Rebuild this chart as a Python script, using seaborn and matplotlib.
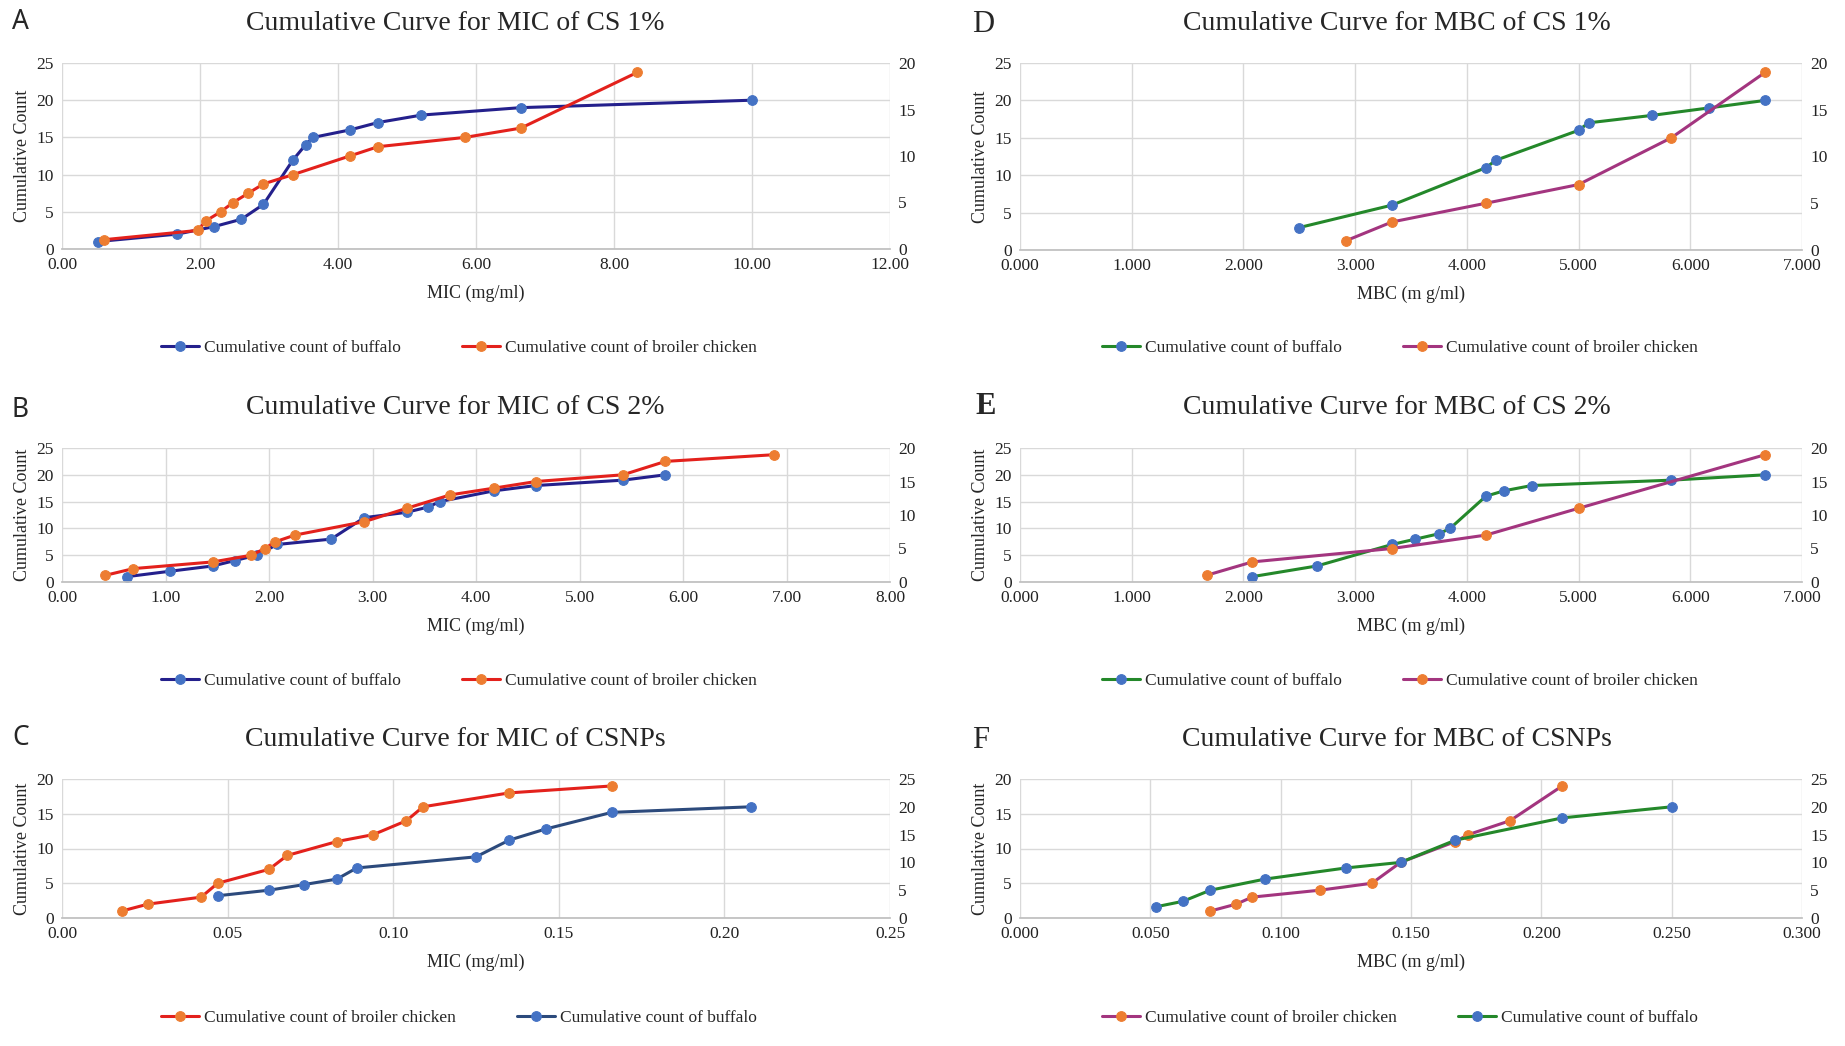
import matplotlib
matplotlib.use("Agg")
import matplotlib.pyplot as plt
import seaborn as sns

sns.set_theme(style="white")
plt.rcParams['font.family'] = ['Liberation Serif', 'DejaVu Serif']

# ---- data ----
# A: MIC of CS 1%
a_buffalo_x = [0.52, 1.67, 2.20, 2.60, 2.92, 3.35, 3.53, 3.64, 4.17, 4.58, 5.21, 6.65, 10.0]
a_buffalo_y = [1, 2, 3, 4, 6, 12, 14, 15, 16, 17, 18, 19, 20]
a_broiler_x = [0.61, 1.97, 2.08, 2.30, 2.48, 2.70, 2.92, 3.35, 4.17, 4.58, 5.84, 6.65, 8.34]
a_broiler_y = [1, 2, 3, 4, 5, 6, 7, 8, 10, 11, 12, 13, 19]

# B: MIC of CS 2%
b_buffalo_x = [0.63, 1.04, 1.46, 1.67, 1.88, 2.08, 2.60, 2.92, 3.33, 3.54, 3.65, 4.17, 4.58, 5.42, 5.83]
b_buffalo_y = [1, 2, 3, 4, 5, 7, 8, 12, 13, 14, 15, 17, 18, 19, 20]
b_broiler_x = [0.42, 0.69, 1.46, 1.83, 1.96, 2.06, 2.25, 2.92, 3.33, 3.75, 4.17, 4.58, 5.42, 5.83, 6.88]
b_broiler_y = [1, 2, 3, 4, 5, 6, 7, 9, 11, 13, 14, 15, 16, 18, 19]

# C: MIC of CSNPs
c_broiler_x = [0.018, 0.026, 0.042, 0.047, 0.0625, 0.068, 0.083, 0.094, 0.104, 0.109, 0.135, 0.166]
c_broiler_y = [1, 2, 3, 5, 7, 9, 11, 12, 14, 16, 18, 19]
c_buffalo_x = [0.047, 0.0625, 0.073, 0.083, 0.089, 0.125, 0.135, 0.146, 0.166, 0.208]
c_buffalo_y = [4, 5, 6, 7, 9, 11, 14, 16, 19, 20]

# D: MBC of CS 1%
d_buffalo_x = [2.50, 3.33, 4.17, 4.26, 5.0, 5.09, 5.66, 6.17, 6.67]
d_buffalo_y = [3, 6, 11, 12, 16, 17, 18, 19, 20]
d_broiler_x = [2.92, 3.33, 4.17, 5.0, 5.83, 6.67]
d_broiler_y = [1, 3, 5, 7, 12, 19]

# E: MBC of CS 2%
e_buffalo_x = [2.08, 2.66, 3.33, 3.54, 3.75, 3.85, 4.17, 4.33, 4.58, 5.83, 6.67]
e_buffalo_y = [1, 3, 7, 8, 9, 10, 16, 17, 18, 19, 20]
e_broiler_x = [1.67, 2.08, 3.33, 4.17, 5.0, 6.67]
e_broiler_y = [1, 3, 5, 7, 11, 19]

# F: MBC of CSNPs
f_broiler_x = [0.073, 0.083, 0.089, 0.115, 0.135, 0.146, 0.167, 0.172, 0.188, 0.208]
f_broiler_y = [1, 2, 3, 4, 5, 8, 11, 12, 14, 19]
f_buffalo_x = [0.052, 0.0625, 0.073, 0.094, 0.125, 0.146, 0.167, 0.208, 0.25]
f_buffalo_y = [2, 3, 5, 7, 9, 10, 14, 18, 20]

lab_buffalo = "Cumulative count of buffalo"
lab_broiler = "Cumulative count of broiler chicken"

BLUE_M = "#4472C4"
ORANGE_M = "#ED7D31"
NAVY = "#24208C"
SLATE = "#2C4A7C"
RED = "#E3211C"
GREEN = "#24882A"
PURPLE = "#A3357F"
GRID = "#D9D9D9"

W, H = 1845, 1046
fig = plt.figure(figsize=(W / 100, H / 100), dpi=100)


def box(l, r, t, b):
    return [l / W, 1 - b / H, (r - l) / W, (b - t) / H]


def series(ax, x, y, line, mark, label):
    sns.lineplot(x=x, y=y, ax=ax, color=line, marker="o", markersize=7,
                 markerfacecolor=mark, markeredgecolor=mark, linewidth=2.2,
                 sort=False, label=label, legend=False)


def panel(rect, letter, letter_font, title, xlabel, xticks, xfmt,
          prim, sec, prim_max, sec_max, order, leg_x, leg_y, title_x, title_y, let_xy):
    ax = fig.add_axes(rect)
    ax2 = ax.twinx()
    for (x, y, line, mark, label) in prim:
        series(ax, x, y, line, mark, label)
    for (x, y, line, mark, label) in sec:
        series(ax2, x, y, line, mark, label)
    ax.set_xlim(xticks[0], xticks[-1])
    ax.set_xticks(xticks)
    ax.set_xticklabels([xfmt.format(v) for v in xticks])
    ax.set_ylim(0, prim_max)
    ax.set_yticks(range(0, prim_max + 1, 5))
    ax2.set_ylim(0, sec_max)
    ax2.set_yticks(range(0, sec_max + 1, 5))
    ax.grid(True, color=GRID, linewidth=1)
    ax2.grid(False)
    for a in (ax, ax2):
        for s in a.spines.values():
            s.set_visible(False)
        a.tick_params(length=0, labelsize=12.5, colors="#222222", pad=6)
    ax.spines["bottom"].set_visible(True)
    ax.spines["bottom"].set_color("#BFBFBF")
    ax.set_xlabel(xlabel, fontsize=13, labelpad=8)
    ax.set_ylabel("Cumulative Count", fontsize=13, labelpad=4)
    fig.text(title_x / W, 1 - title_y / H, title, fontsize=20, ha="center", va="center")
    fig.text(let_xy[0] / W, 1 - let_xy[1] / H, letter, ha="left", va="center", **letter_font)
    h1, l1 = ax.get_legend_handles_labels()
    h2, l2 = ax2.get_legend_handles_labels()
    hd = dict(zip(l1 + l2, h1 + h2))
    fig.legend([hd[k] for k in order], order, loc="center",
               bbox_to_anchor=(leg_x / W, 1 - leg_y / H), ncol=2, frameon=False,
               fontsize=12.5, columnspacing=3.5, handlelength=2.2, handletextpad=0.3)


sans = dict(family=["Noto Sans", "DejaVu Sans"], fontsize=19)
serif = dict(fontsize=22)
serif_b = dict(fontsize=22, fontweight="bold")

LX0, LX1 = 62, 890
RX0, RX1 = 1020, 1802

panel(box(LX0, LX1, 63, 249), "A", sans, "Cumulative Curve for MIC of CS 1%", "MIC (mg/ml)",
      [0, 2, 4, 6, 8, 10, 12], "{:.2f}",
      [(a_buffalo_x, a_buffalo_y, NAVY, BLUE_M, lab_buffalo)],
      [(a_broiler_x, a_broiler_y, RED, ORANGE_M, lab_broiler)],
      25, 20, [lab_buffalo, lab_broiler], 459, 348, 455, 24, (12, 22))

panel(box(LX0, LX1, 448, 582), "B", sans, "Cumulative Curve for MIC of CS 2%", "MIC (mg/ml)",
      [0, 1, 2, 3, 4, 5, 6, 7, 8], "{:.2f}",
      [(b_buffalo_x, b_buffalo_y, NAVY, BLUE_M, lab_buffalo)],
      [(b_broiler_x, b_broiler_y, RED, ORANGE_M, lab_broiler)],
      25, 20, [lab_buffalo, lab_broiler], 459, 681, 455, 408, (12, 410))

panel(box(LX0, LX1, 779, 918), "C", sans, "Cumulative Curve for MIC of CSNPs", "MIC (mg/ml)",
      [0, 0.05, 0.10, 0.15, 0.20, 0.25], "{:.2f}",
      [(c_broiler_x, c_broiler_y, RED, ORANGE_M, lab_broiler)],
      [(c_buffalo_x, c_buffalo_y, SLATE, BLUE_M, lab_buffalo)],
      20, 25, [lab_broiler, lab_buffalo], 459, 1018, 455, 740, (12, 738))

panel(box(RX0, RX1, 63, 250), "D", serif, "Cumulative Curve for MBC of CS 1%", "MBC (m g/ml)",
      [0, 1, 2, 3, 4, 5, 6, 7], "{:.3f}",
      [(d_buffalo_x, d_buffalo_y, GREEN, BLUE_M, lab_buffalo)],
      [(d_broiler_x, d_broiler_y, PURPLE, ORANGE_M, lab_broiler)],
      25, 20, [lab_buffalo, lab_broiler], 1400, 348, 1397, 24, (972, 24))

panel(box(RX0, RX1, 448, 582), "E", serif_b, "Cumulative Curve for MBC of CS 2%", "MBC (m g/ml)",
      [0, 1, 2, 3, 4, 5, 6, 7], "{:.3f}",
      [(e_buffalo_x, e_buffalo_y, GREEN, BLUE_M, lab_buffalo)],
      [(e_broiler_x, e_broiler_y, PURPLE, ORANGE_M, lab_broiler)],
      25, 20, [lab_buffalo, lab_broiler], 1400, 681, 1397, 408, (975, 407))

panel(box(RX0, RX1, 779, 918), "F", serif, "Cumulative Curve for MBC of CSNPs", "MBC (m g/ml)",
      [0, 0.05, 0.10, 0.15, 0.20, 0.25, 0.30], "{:.3f}",
      [(f_broiler_x, f_broiler_y, PURPLE, ORANGE_M, lab_broiler)],
      [(f_buffalo_x, f_buffalo_y, GREEN, BLUE_M, lab_buffalo)],
      20, 25, [lab_broiler, lab_buffalo], 1400, 1018, 1397, 740, (972, 740))

fig.savefig("out.png", dpi=100)
